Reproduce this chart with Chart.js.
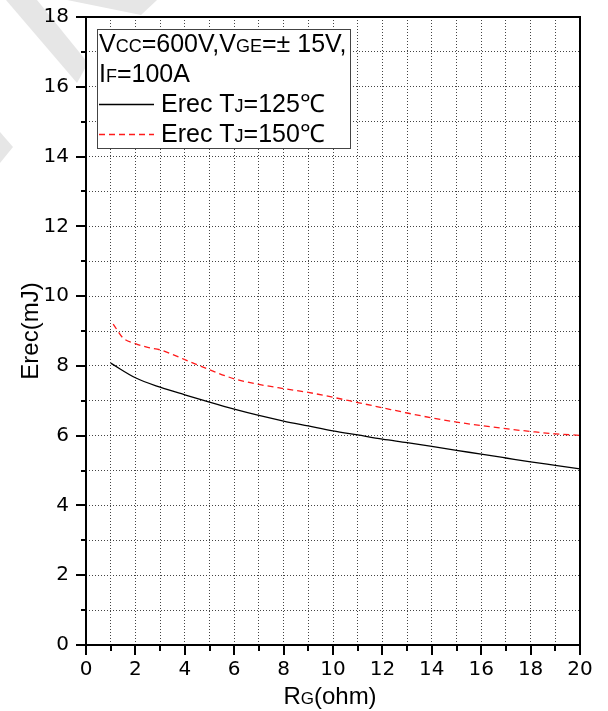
<!DOCTYPE html>
<html>
<head>
<meta charset="utf-8">
<script src="https://cdn.jsdelivr.net/npm/chart.js@4"></script>
<style>
  html, body { margin: 0; padding: 0; background: #fff; }
  #wrap { width: 608px; height: 711px; }
</style>
</head>
<body>
<div id="wrap"><canvas id="c" width="608" height="711"></canvas></div>
<script>
// data
var rg125 = [1, 2, 3, 4, 5, 6, 7, 8, 9, 10, 11, 12, 13, 14, 15, 16, 17, 18, 19, 20];
var erec125 = [8.08, 7.66, 7.39, 7.17, 6.96, 6.76, 6.58, 6.42, 6.28, 6.14, 6.02, 5.9, 5.8, 5.69, 5.58, 5.47, 5.36, 5.25, 5.15, 5.05];
var rg150 = [1.1, 1.5, 2, 2.5, 3, 3.5, 4, 5, 6, 7, 8, 9, 10, 11, 12, 13, 14, 15, 16, 17, 18, 19, 20];
var erec150 = [9.2, 8.8, 8.64, 8.53, 8.46, 8.33, 8.18, 7.89, 7.63, 7.47, 7.35, 7.24, 7.1, 6.95, 6.8, 6.65, 6.51, 6.39, 6.29, 6.2, 6.12, 6.05, 6.01];
var xTickLabels = [0, 2, 4, 6, 8, 10, 12, 14, 16, 18, 20];
var yTickLabels = [0, 2, 4, 6, 8, 10, 12, 14, 16, 18];
var seriesNames = ['Erec T|J|=125℃', 'Erec T|J|=150℃'];

var FONT = '"Liberation Sans", Arial, sans-serif';
var TICKFONT = '"DejaVu Sans", sans-serif';
Chart.defaults.font.family = TICKFONT;
Chart.defaults.font.size = 20;
Chart.defaults.color = '#000';

function pts(xs, ys){
  return xs.map(function(x, i){ return {x: x, y: ys[i]}; });
}

// draw text made of normal / small pieces (small caps subscripts)
function runsWidth(ctx, runs){
  var w = 0;
  runs.forEach(function(r){ ctx.font = r[1] + 'px ' + FONT; w += ctx.measureText(r[0]).width; });
  return w;
}
function drawRuns(ctx, x, y, runs){
  runs.forEach(function(r){
    ctx.font = r[1] + 'px ' + FONT;
    ctx.fillText(r[0], x, y);
    x += ctx.measureText(r[0]).width;
  });
}
function splitName(name){ // 'Erec T|J|=125℃' -> runs
  var p = name.split('|');
  return [[p[0], 25], [p[1], 18], [p[2], 25]];
}

var decor = {
  id: 'decor',
  beforeDraw: function(chart){
    var ctx = chart.ctx, a = chart.chartArea;
    ctx.save();
    ctx.fillStyle = '#fff';
    ctx.fillRect(0, 0, chart.width, chart.height);
    // faint watermark stripes
    ctx.fillStyle = '#e6e6e6';
    [[[6,0],[37,0],[88,63],[77,83]], [[67,0],[157,0],[141,15]], [[0,132],[13,147],[0,163]]].forEach(function(poly){
      ctx.beginPath();
      ctx.moveTo(poly[0][0], poly[0][1]);
      for (var i = 1; i < poly.length; i++) ctx.lineTo(poly[i][0], poly[i][1]);
      ctx.closePath();
      ctx.fill();
    });
    ctx.fillStyle = '#fff';
    ctx.fillRect(a.left, a.top, a.right - a.left, a.bottom - a.top);
    ctx.restore();
  },
  afterDatasetsDraw: function(chart){
    var ctx = chart.ctx, a = chart.chartArea;
    var xs = chart.scales.x, ys = chart.scales.y;
    ctx.save();
    ctx.strokeStyle = '#000';
    ctx.lineWidth = 2;
    ctx.strokeRect(a.left, a.top, a.right - a.left, a.bottom - a.top);
    // outward ticks, long on labelled values
    ctx.beginPath();
    for (var v = 0; v <= 20; v++){
      var px = Math.round(xs.getPixelForValue(v));
      var len = xTickLabels.indexOf(v) >= 0 ? 10 : 6;
      ctx.moveTo(px, a.bottom); ctx.lineTo(px, a.bottom + len);
    }
    for (var w = 0; w <= 18; w++){
      var py = Math.round(ys.getPixelForValue(w));
      var l2 = yTickLabels.indexOf(w) >= 0 ? 10 : 5;
      ctx.moveTo(a.left, py); ctx.lineTo(a.left - l2, py);
    }
    ctx.stroke();
    ctx.restore();
  },
  afterDraw: function(chart){
    var ctx = chart.ctx;
    ctx.save();
    ctx.fillStyle = '#000';
    ctx.textBaseline = 'alphabetic';
    // axis titles
    var xt = [['R', 24], ['G', 17], ['(ohm)', 24]];
    var a = chart.chartArea;
    drawRuns(ctx, (a.left + a.right) / 2 - runsWidth(ctx, xt) / 2 - 3, 704, xt);
    ctx.translate(38, (a.top + a.bottom) / 2);
    ctx.rotate(-Math.PI / 2);
    ctx.textAlign = 'center';
    ctx.font = '24px ' + FONT;
    ctx.fillText('Erec(mJ)', 0, 0);
    ctx.restore();

    // legend box
    ctx.save();
    ctx.fillStyle = '#fff';
    ctx.fillRect(97, 29, 253, 119);
    ctx.strokeStyle = '#444';
    ctx.lineWidth = 1;
    ctx.strokeRect(97.5, 29.5, 253, 119);
    ctx.fillStyle = '#000';
    drawRuns(ctx, 99, 52, [['V', 25], ['CC', 18], ['=600V,V', 25], ['GE', 18], ['=\u00b1 15V,', 25]]);
    drawRuns(ctx, 99, 82, [['I', 25], ['F', 18], ['=100A', 25]]);
    var ds = chart.data.datasets;
    [104, 134].forEach(function(yy, i){
      ctx.strokeStyle = ds[i].borderColor;
      ctx.lineWidth = 1.3;
      ctx.setLineDash(ds[i].borderDash || []);
      ctx.beginPath();
      ctx.moveTo(99, yy + 0.5); ctx.lineTo(154, yy + 0.5);
      ctx.stroke();
      drawRuns(ctx, 161, yy + 8, splitName(seriesNames[i]));
    });
    ctx.restore();
  }
};

var ctx = document.getElementById('c');
new Chart(ctx, {
  type: 'line',
  data: {
    datasets: [{
      label: seriesNames[0],
      data: pts(rg125, erec125),
      borderColor: '#000',
      borderWidth: 1.3,
      pointRadius: 0,
      cubicInterpolationMode: 'monotone'
    }, {
      label: seriesNames[1],
      data: pts(rg150, erec150),
      borderColor: '#ff1a1a',
      borderWidth: 1.3,
      borderDash: [6, 4],
      pointRadius: 0,
      cubicInterpolationMode: 'monotone'
    }]
  },
  options: {
    responsive: false,
    animation: false,
    events: [],
    layout: { padding: { top: 17, right: 28, left: 0, bottom: 0 } },
    plugins: { legend: { display: false }, tooltip: { enabled: false } },
    scales: {
      x: {
        type: 'linear', min: 0, max: 20,
        afterFit: function(s){ s.height = 66; s.paddingLeft = 0; s.paddingRight = 0; },
        ticks: {
          stepSize: 1, autoSkip: false, maxRotation: 0, padding: 13,
          color: '#000', font: { family: TICKFONT, size: 20 },
          callback: function(v){ return xTickLabels.indexOf(v) >= 0 ? String(v) : ''; }
        },
        grid: { color: '#444', lineWidth: 1, drawTicks: false },
        border: { display: false, dash: [1, 2] }
      },
      y: {
        type: 'linear', min: 0, max: 18,
        afterFit: function(s){ s.width = 86; s.paddingTop = 0; s.paddingBottom = 0; },
        ticks: {
          stepSize: 1, autoSkip: false, padding: 17,
          color: '#000', font: { family: TICKFONT, size: 20 },
          callback: function(v){ return yTickLabels.indexOf(v) >= 0 ? String(v) : ''; }
        },
        grid: { color: '#444', lineWidth: 1, drawTicks: false },
        border: { display: false, dash: [1, 2] }
      }
    }
  },
  plugins: [decor]
});
</script>
</body>
</html>
